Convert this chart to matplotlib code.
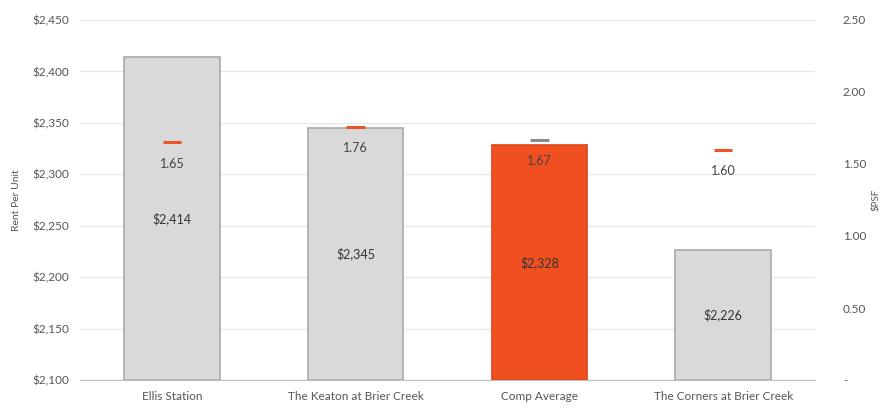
import matplotlib.pyplot as plt
import numpy as np
from matplotlib.ticker import FuncFormatter

categories = ['Ellis Station', 'The Keaton at Brier Creek', 'Comp Average', 'The Corners at Brier Creek']
rent = [2414, 2345, 2328, 2226]
psf = [1.65, 1.76, 1.67, 1.60]

bar_colors = ['#d9d9d9', '#d9d9d9', '#f0501f', '#d9d9d9']
edge_colors = ['#a9a9a9', '#a9a9a9', '#d9441a', '#a9a9a9']
mark_colors = ['#ea5527', '#ea5527', '#8c8c8c', '#ea5527']
txt = '#555555'

plt.rcParams['font.family'] = ['Lato', 'DejaVu Sans']

fig = plt.figure(figsize=(8.84, 4.16), dpi=100)
ax = fig.add_axes([0.0905, 0.0865, 0.8315, 0.8655])
x = np.arange(len(categories))

ax.bar(x, [r - 2100 for r in rent], bottom=2100, width=0.52,
       color=bar_colors, edgecolor=edge_colors, linewidth=1.2, zorder=2)
ax.set_ylim(2100, 2450)
ax.set_xlim(-0.5, 3.5)
ax.set_yticks(np.arange(2100, 2451, 50))
ax.yaxis.set_major_formatter(FuncFormatter(lambda v, p: '${:,.0f}'.format(v)))
ax.grid(axis='y', color='#e8e8e8', linewidth=1, zorder=0)
ax.set_xticks(x)
ax.set_xticklabels(categories)
ax.tick_params(axis='both', length=0, labelsize=8.5, colors=txt, pad=8)
for s in ['top', 'left', 'right']:
    ax.spines[s].set_visible(False)
ax.spines['bottom'].set_color('#bfbfbf')
ax.set_ylabel('Rent Per Unit', fontsize=7.5, color=txt, labelpad=8)

for i, r in enumerate(rent):
    ax.text(x[i], (2100 + r) / 2, '${:,}'.format(r), ha='center', va='center',
            fontsize=9, color='#333333', zorder=4)

ax2 = ax.twinx()
ax2.set_ylim(0, 2.5)
ax2.set_yticks(np.arange(0, 2.51, 0.5))
ax2.yaxis.set_major_formatter(FuncFormatter(lambda v, p: '-' if v == 0 else '{:.2f}'.format(v)))
ax2.tick_params(axis='y', length=0, labelsize=8.5, colors=txt, pad=20)
for s in ['top', 'left', 'right', 'bottom']:
    ax2.spines[s].set_visible(False)
ax2.set_ylabel('$PSF', fontsize=7, color=txt, labelpad=4)

for i, v in enumerate(psf):
    ax2.plot([x[i] - 0.05, x[i] + 0.05], [v, v], color=mark_colors[i], linewidth=2.2,
             solid_capstyle='butt', zorder=5)
    ax2.text(x[i], v - 0.15, '{:.2f}'.format(v), ha='center', va='center',
             fontsize=9, color='#444444', zorder=5)

fig.savefig('out.png', dpi=100)
